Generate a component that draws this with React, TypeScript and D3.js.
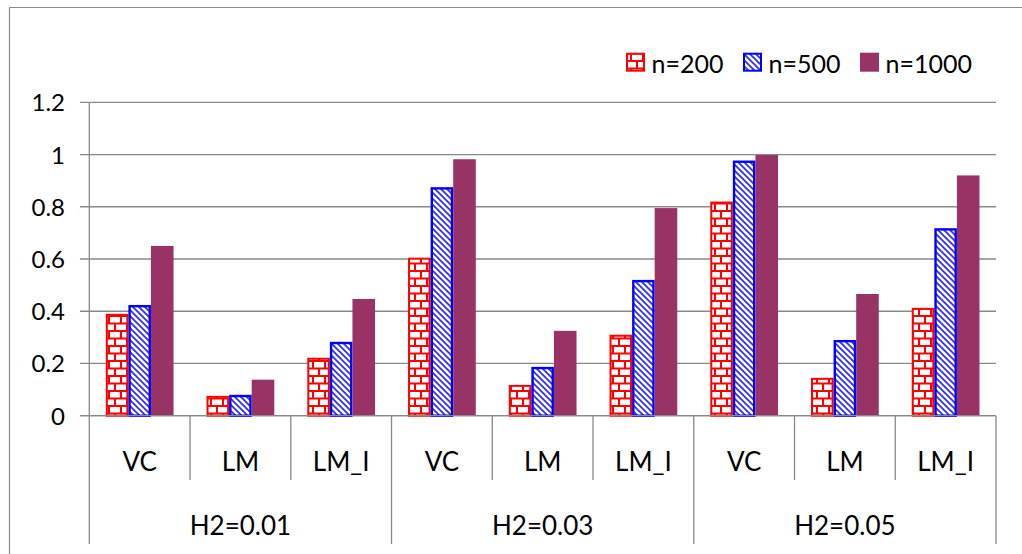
import React from "react";
import * as d3 from "d3";

const groups = ["H2=0.01", "H2=0.03", "H2=0.05"];
const methods = ["VC", "LM", "LM_I"];
const seriesNames = ["n=200", "n=500", "n=1000"];
// values per category (group × method), one array per series
const n200 = [0.39, 0.076, 0.222, 0.605, 0.118, 0.31, 0.82, 0.145, 0.413];
const n500 = [0.424, 0.08, 0.283, 0.875, 0.187, 0.52, 0.977, 0.29, 0.718];
const n1000 = [0.65, 0.138, 0.447, 0.982, 0.325, 0.795, 0.998, 0.466, 0.92];
const yTicks = [0, 0.2, 0.4, 0.6, 0.8, 1, 1.2];
const yTickLabels = ["0", "0.2", "0.4", "0.6", "0.8", "1", "1.2"];

const W = 1022;
const H = 554;
const FONT = "Lato, 'Open Sans', sans-serif";
const GRID = "#898989";

export default function App() {
  const left = 89.3;
  const right = 996;
  const y0 = 415.7;
  const yTop = 102.3;

  const categories = groups.flatMap((g) => methods.map((m) => `${g}|${m}`));
  const x = d3.scaleBand<string>().domain(categories).range([left, right]).padding(0);
  const bw = x.bandwidth();
  const inner = d3.scaleBand<string>().domain(seriesNames).range([16.5, bw - 16.5]).padding(0);
  const y = d3.scaleLinear().domain([0, 1.2]).range([y0, yTop]);

  const seriesData = [n200, n500, n1000];
  const fills = ["url(#brick)", "url(#diag)", "#993366"];
  const strokes = ["#ff0000", "#0000ff", "none"];

  const groupX = d3.scaleBand<string>().domain(groups).range([left, right]).padding(0);

  return (
    <svg width={W} height={H} style={{ position: "absolute", left: 0, top: 0, background: "#fff" }}>
      <defs>
        <pattern id="brick" width={12} height={15} patternUnits="userSpaceOnUse">
          <rect width={12} height={15} fill="#fff" />
          <line x1={0} x2={12} y1={1} y2={1} stroke="#ff0000" strokeWidth={2} />
          <line x1={1} x2={1} y1={0} y2={8.5} stroke="#ff0000" strokeWidth={2} />
          <line x1={0} x2={12} y1={8.5} y2={8.5} stroke="#ff0000" strokeWidth={2} />
          <line x1={7} x2={7} y1={8.5} y2={15} stroke="#ff0000" strokeWidth={2} />
        </pattern>
        <pattern id="diag" width={6} height={6} patternUnits="userSpaceOnUse">
          <rect width={6} height={6} fill="#fff" />
          <line x1={0} y1={0} x2={6} y2={6} stroke="#2a2aff" strokeWidth={1.7} />
          <line x1={-1} y1={5} x2={1} y2={7} stroke="#2a2aff" strokeWidth={1.7} />
          <line x1={5} y1={-1} x2={7} y2={1} stroke="#2a2aff" strokeWidth={1.7} />
        </pattern>
      </defs>

      {/* outer chart frame */}
      <line x1={9.5} x2={9.5} y1={7.5} y2={H} stroke="#8a8a8a" strokeWidth={1.2} />
      <line x1={9.5} x2={W} y1={7.5} y2={7.5} stroke="#8a8a8a" strokeWidth={1.2} />

      {/* gridlines and ticks */}
      {yTicks.map((t, i) => (
        <g key={`g${i}`}>
          <line x1={80} x2={right} y1={y(t)} y2={y(t)} stroke={GRID} strokeWidth={1.3} />
          <text
            x={65}
            y={y(t) + 9}
            textAnchor="end"
            fontFamily={FONT}
            fontSize={24}
            fill="#000"
          >
            {yTickLabels[i]}
          </text>
        </g>
      ))}

      {/* bars */}
      {seriesData.map((vals, si) =>
        vals.map((v, ci) => {
          const cx = (x(categories[ci]) as number) + (inner(seriesNames[si]) as number);
          const w = inner.bandwidth();
          const top = y(v);
          const sw = si === 0 ? 2 : si === 1 ? 2.4 : 0;
          return (
            <rect
              key={`b${si}-${ci}`}
              x={cx + sw / 2}
              y={top + sw / 2}
              width={w - sw}
              height={y0 - top - sw / 2}
              fill={fills[si]}
              stroke={strokes[si]}
              strokeWidth={sw}
            />
          );
        })
      )}

      {/* axis lines */}
      <line x1={left} x2={left} y1={yTop} y2={544} stroke={GRID} strokeWidth={1.3} />
      <line x1={80} x2={right} y1={y0} y2={y0} stroke={GRID} strokeWidth={1.3} />
      {categories.map((c, i) =>
        i === 0 ? null : (
          <line
            key={`d${i}`}
            x1={x(c) as number}
            x2={x(c) as number}
            y1={y0}
            y2={i % 3 === 0 ? 544 : 480}
            stroke={GRID}
            strokeWidth={1.3}
          />
        )
      )}
      <line x1={right} x2={right} y1={y0} y2={544} stroke={GRID} strokeWidth={1.3} />

      {/* category labels */}
      {categories.map((c, i) => (
        <text
          key={`c${i}`}
          x={(x(c) as number) + bw / 2}
          y={471}
          textAnchor="middle"
          fontFamily={FONT}
          fontSize={26}
          fill="#000"
        >
          {methods[i % 3]}
        </text>
      ))}
      {groups.map((g) => (
        <text
          key={g}
          x={(groupX(g) as number) + groupX.bandwidth() / 2}
          y={535}
          textAnchor="middle"
          fontFamily={FONT}
          fontSize={26}
          fill="#000"
        >
          {g}
        </text>
      ))}

      {/* legend */}
      {seriesNames.map((s, i) => {
        const lx = [626, 743, 860][i];
        const sw = i === 2 ? 0 : 2;
        return (
          <g key={s}>
            <rect
              x={lx + sw / 2}
              y={52.7 + sw / 2}
              width={19 - sw}
              height={19 - sw}
              fill={fills[i]}
              stroke={strokes[i]}
              strokeWidth={sw}
            />
            <text x={lx + 25.5} y={72.7} fontFamily={FONT} fontSize={25} fill="#000">
              {s}
            </text>
          </g>
        );
      })}
    </svg>
  );
}
